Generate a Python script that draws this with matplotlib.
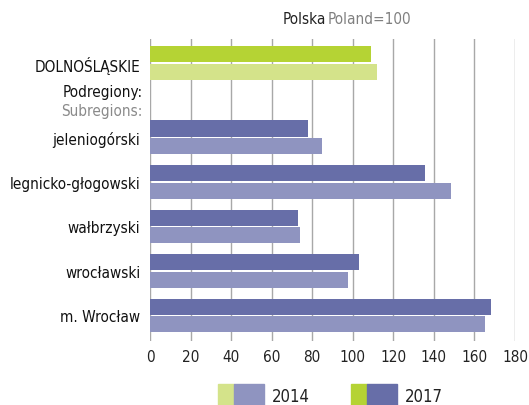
import matplotlib.pyplot as plt
from matplotlib.patches import Rectangle
import numpy as np

plt.rcParams['font.family'] = ['DejaVu Sans']
plt.rcParams['font.stretch'] = 'condensed'

# dane: Polska = 100
regions = ["DOLNOŚLĄSKIE", "jeleniogórski", "legnicko-głogowski", "wałbrzyski", "wrocławski", "m. Wrocław"]
val_2014 = [112, 85, 148.6, 74, 97.8, 165]
val_2017 = [109, 78, 135.8, 73, 103.2, 168.4]
xticks = [0, 20, 40, 60, 80, 100, 120, 140, 160, 180]

# pozycje grup (od dołu), województwo oddzielone miejscem na "Podregiony"
ypos = np.array([5.67, 4, 3, 2, 1, 0])

c14_reg, c17_reg = '#d4e38a', '#b5d334'
c14_sub, c17_sub = '#8f94c0', '#676ea8'

fig = plt.figure(figsize=(5.29, 4.06), dpi=100)
ax = fig.add_axes([0.2836, 1 - 342 / 406, 0.9735 - 0.2836, (342 - 40) / 406])

h = 0.36
off = 0.2
for i, name in enumerate(regions):
    c14 = c14_reg if i == 0 else c14_sub
    c17 = c17_reg if i == 0 else c17_sub
    ax.barh(ypos[i] + off, val_2017[i], height=h, color=c17, zorder=3)
    ax.barh(ypos[i] - off, val_2014[i], height=h, color=c14, zorder=3)

fs = 11
ax.set_xlim(0, 180)
ax.set_ylim(-0.573, 6.21)
ax.set_xticks(xticks)
ax.set_xticklabels([str(t) for t in xticks], fontsize=fs, color='#222222')
ax.set_yticks(ypos)
ax.set_yticklabels(regions, fontsize=fs, color='#111111')
ax.tick_params(axis='both', length=0, pad=6)
ax.tick_params(axis='y', pad=7)
ax.grid(axis='x', color='#a8a8a8', linewidth=1, zorder=0)
for s in ax.spines.values():
    s.set_visible(False)

ax.text(-3.5, 5.04, "Podregiony:", ha='right', va='center', fontsize=fs, color='#111111')
ax.text(-3.5, 4.6, "Subregions:", ha='right', va='center', fontsize=fs, color='#8a8a8a')

t1 = fig.text(283 / 529, 1 - 20 / 406, "Polska", ha='left', va='center', fontsize=fs, color='#222222')
fig.text(328 / 529, 1 - 20 / 406, "Poland=100", ha='left', va='center', fontsize=fs, color='#808080')

# legenda
W, H = 529, 406
def rect(x0, x1, color):
    fig.patches.append(Rectangle((x0 / W, 0), (x1 - x0) / W, (H - 385) / H,
                                 transform=fig.transFigure, color=color))
rect(218, 234, c14_reg)
rect(234, 264, c14_sub)
rect(351, 367, c17_reg)
rect(367, 397, c17_sub)
fig.text(272 / W, 1 - 397 / H, "2014", ha='left', va='center', fontsize=12, color='#222222')
fig.text(405 / W, 1 - 397 / H, "2017", ha='left', va='center', fontsize=12, color='#222222')

plt.savefig("out.png", dpi=100)
